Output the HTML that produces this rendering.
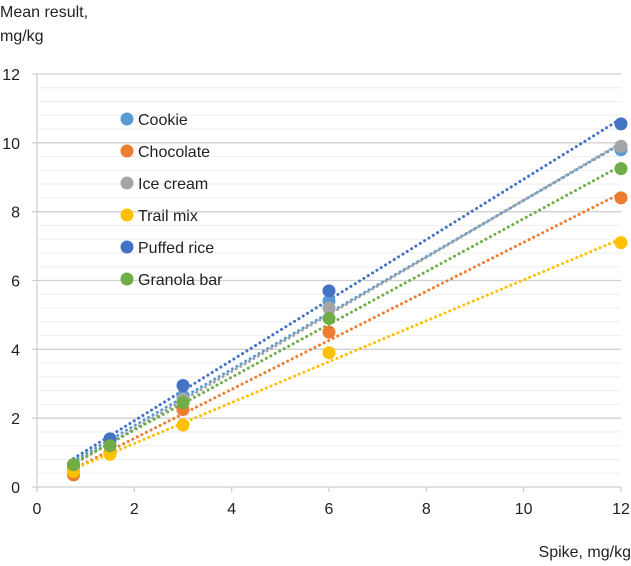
<!DOCTYPE html>
<html><head><meta charset="utf-8"><style>
body{margin:0;background:#fff;}
text{font-family:"Liberation Sans",sans-serif;fill:#222;}
</style></head><body>
<svg id="c" width="631" height="561" xmlns="http://www.w3.org/2000/svg"></svg>
<script>
const xValues=[0.75,1.5,3,6,12];
const seriesNames=["Cookie","Chocolate","Ice cream","Trail mix","Puffed rice","Granola bar"];
const cookie=[0.6,1.3,2.65,5.4,9.8];
const chocolate=[0.35,1.0,2.25,4.5,8.4];
const iceCream=[0.55,1.25,2.55,5.2,9.9];
const trailMix=[0.45,0.95,1.8,3.9,7.1];
const puffedRice=[0.65,1.4,2.95,5.7,10.55];
const granolaBar=[0.65,1.2,2.45,4.9,9.25];
const xTicks=[0,2,4,6,8,10,12];
const yTicks=[0,2,4,6,8,10,12];
const colors=["#5B9BD5","#ED7D31","#A5A5A5","#FFC000","#4472C4","#70AD47"];
const allSeries=[cookie,chocolate,iceCream,trailMix,puffedRice,granolaBar];
const NS="http://www.w3.org/2000/svg",svg=document.getElementById('c');
const X=v=>37+v*(584/12), Y=v=>487-v*(413/12);
function mk(t,a,p){const e=document.createElementNS(NS,t);for(const k in a)e.setAttribute(k,a[k]);(p||svg).appendChild(e);return e;}
// minor grid
for(let v=0.4;v<12;v+=0.4){if(Math.abs(v/2-Math.round(v/2))<0.01)continue;const l=mk('line',{x1:X(0),x2:X(12),y1:Y(v),y2:Y(v),stroke:'#eeeeee','stroke-width':1});
}
yTicks.forEach(v=>{const l=mk('line',{x1:X(0)-5,x2:X(12),y1:Y(v),y2:Y(v),stroke:'#d0d0d0','stroke-width':1.3});

const t=mk('text',{x:20,y:Y(v)+6,'text-anchor':'end','font-size':16});t.textContent=v;
});
const ax=mk('line',{x1:X(0),x2:X(0),y1:Y(12),y2:Y(0)+5,stroke:'#d0d0d0','stroke-width':1.3});

xTicks.forEach(v=>{const l=mk('line',{x1:X(v),x2:X(v),y1:Y(0),y2:Y(0)+5,stroke:'#d0d0d0','stroke-width':1.3});

const t=mk('text',{x:X(v),y:514,'text-anchor':'middle','font-size':16});t.textContent=v;
});
allSeries.forEach((s,i)=>{
 const n=xValues.length;let sx=0,sy=0,sxx=0,sxy=0;
 for(let k=0;k<n;k++){sx+=xValues[k];sy+=s[k];sxx+=xValues[k]**2;sxy+=xValues[k]*s[k];}
 const m=(n*sxy-sx*sy)/(n*sxx-sx*sx),b=(sy-m*sx)/n;
 const x0=xValues[0],x1=xValues[n-1];
 const l=mk('line',{x1:X(x0),y1:Y(m*x0+b),x2:X(x1),y2:Y(m*x1+b),stroke:colors[i],'stroke-width':3,'stroke-dasharray':'0.1 5','stroke-linecap':'round'});
 
});
allSeries.forEach((s,i)=>{s.forEach((v,k)=>{const c=mk('circle',{cx:X(xValues[k]),cy:Y(v),r:6.5,fill:colors[i]});
 });
 const lc=mk('circle',{cx:127,cy:119+i*32,r:6.5,fill:colors[i]});
 
 const lt=mk('text',{x:138,y:125+i*32,'font-size':16});lt.textContent=seriesNames[i];
 });
const t1=mk('text',{x:0,y:17,'font-size':16});t1.textContent='Mean result,';

const t2=mk('text',{x:0,y:41,'font-size':16});t2.textContent='mg/kg';

const t3=mk('text',{x:631,y:557,'font-size':16,'text-anchor':'end'});t3.textContent='Spike, mg/kg';

</script></body></html>
